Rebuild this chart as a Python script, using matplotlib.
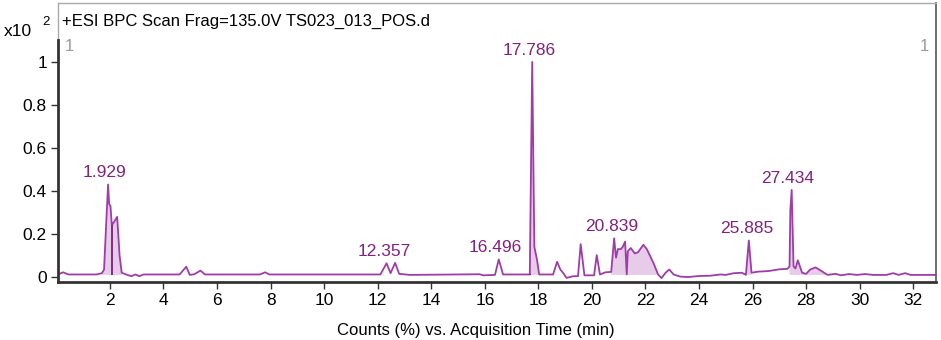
import numpy as np
import matplotlib
matplotlib.use("Agg")
import matplotlib.pyplot as plt

plt.rcParams['font.family'] = ['Liberation Sans', 'DejaVu Sans']

# acquisition time (min) and counts (x10^2)
times = [0.06, 0.25, 0.45, 1.0, 1.5, 1.70, 1.78, 1.86, 1.93, 1.97, 2.02, 2.07,
         2.12, 2.27, 2.36, 2.44, 2.6, 2.8, 2.95, 3.1, 3.25, 4.6, 4.85, 4.98,
         5.15, 5.38, 5.55, 7.6, 7.8, 7.95, 12.1, 12.33, 12.48, 12.65, 12.8,
         13.2, 15.8, 15.95, 16.38, 16.52, 16.68, 17.6, 17.68, 17.77, 17.85,
         17.95, 18.03, 18.55, 18.7, 18.82, 18.95, 19.05, 19.3, 19.48, 19.58,
         19.72, 20.08, 20.18, 20.3, 20.5, 20.72, 20.83, 20.9, 20.97, 21.08,
         21.15, 21.24, 21.3, 21.34, 21.45, 21.6, 21.72, 21.92, 22.05, 22.3,
         22.47, 22.6, 22.75, 22.89, 23.05, 23.3, 23.6, 24.0, 24.4, 24.8, 25.0,
         25.3, 25.6, 25.75, 25.86, 25.96, 26.2, 26.6, 27.0, 27.3, 27.38,
         27.41, 27.46, 27.53, 27.6, 27.69, 27.85, 28.0, 28.15, 28.35, 28.55,
         28.8, 29.1, 29.3, 29.6, 29.9, 30.2, 30.5, 31.0, 31.25, 31.45, 31.7,
         31.9, 32.85]
counts = [0.012, 0.022, 0.012, 0.012, 0.012, 0.018, 0.035, 0.25, 0.43, 0.34,
          0.33, 0.24, 0.25, 0.28, 0.1, 0.02, 0.012, 0.004, 0.012, 0.004, 0.012,
          0.012, 0.048, 0.01, 0.013, 0.03, 0.012, 0.012, 0.022, 0.012, 0.012,
          0.064, 0.018, 0.066, 0.015, 0.01, 0.013, 0.008, 0.01, 0.082, 0.012,
          0.012, 0.012, 1.0, 0.14, 0.08, 0.012, 0.012, 0.071, 0.035, 0.015,
          -0.004, 0.004, 0.004, 0.153, 0.008, 0.008, 0.102, 0.012, 0.022,
          0.024, 0.18, 0.09, 0.13, 0.13, 0.14, 0.165, 0.012, 0.12, 0.135,
          0.11, 0.115, 0.15, 0.13, 0.065, 0.012, -0.005, 0.02, 0.035, 0.012,
          0.002, 0.0, 0.005, 0.006, 0.012, 0.01, 0.018, 0.02, 0.01, 0.17,
          0.02, 0.025, 0.028, 0.036, 0.038, 0.05, 0.31, 0.405, 0.05, 0.04,
          0.078, 0.02, 0.015, 0.035, 0.045, 0.03, 0.01, 0.015, 0.008, 0.014,
          0.01, 0.014, 0.01, 0.01, 0.018, 0.01, 0.018, 0.01, 0.01]

# integrated peak windows (shaded)
peak_windows = [(1.70, 2.44), (17.68, 18.03), (20.72, 22.47), (25.75, 25.96),
                (27.38, 27.53), (27.6, 27.85), (28.0, 28.8)]
split_times = [2.07, 17.68]

peak_labels = ['1.929', '12.357', '16.496', '17.786', '20.839', '25.885', '27.434']
label_times = [1.93, 12.36, 16.50, 17.79, 20.84, 25.89, 27.43]
label_heights = [0.43, 0.066, 0.082, 1.0, 0.18, 0.17, 0.405]

line_c = '#a03ca8'
label_c = '#85207f'
fill_c = '#e6cce8'

t = np.array(times)
c = np.array(counts)

fig = plt.figure(figsize=(9.41, 3.40), dpi=100)
ax = fig.add_axes([58 / 941, 58 / 340, 878 / 941, 279 / 340])

mask = np.zeros(len(t), dtype=bool)
for a, b in peak_windows:
    mask |= (t >= a) & (t <= b)
ax.fill_between(t, c, 0.01, where=mask, color=fill_c, lw=0)
ax.plot(t, c, color=line_c, lw=1.3)
for s in split_times:
    ax.vlines(s, 0.01, np.interp(s, t, c), color='#7a1f7a', lw=1.3)

for lab, lt, lh in zip(peak_labels, label_times, label_heights):
    ax.text(lt - 0.12, lh + 0.02, lab, color=label_c, fontsize=12.5,
            ha='center', va='bottom')

ax.set_xlim(0.06, 32.85)
ax.set_ylim(-0.023, 1.274)
ax.set_xticks(np.arange(2, 33, 2))
ax.set_yticks([0, 0.2, 0.4, 0.6, 0.8, 1])
ax.set_yticklabels(['0', '0.2', '0.4', '0.6', '0.8', '1'])
ax.tick_params(labelsize=12.5, length=5, width=1, color='#333333', pad=3)

ax.spines['left'].set_linewidth(2)
ax.spines['left'].set_color('#333333')
ax.spines['left'].set_bounds(-0.023, 1.1)
ax.spines['bottom'].set_linewidth(2)
ax.spines['bottom'].set_color('#333333')
ax.spines['top'].set_color('#aaaaaa')
ax.spines['top'].set_linewidth(1)
ax.spines['right'].set_color('#555555')
ax.spines['right'].set_linewidth(1.2)
ax.plot([0, 0], [1.1, 1.274], transform=ax.get_yaxis_transform(),
        color='#aaaaaa', lw=1, clip_on=False)

ax.text(0.005, 0.96, '+ESI BPC Scan Frag=135.0V TS023_013_POS.d',
        transform=ax.transAxes, fontsize=12, va='top', ha='left')
ax.text(0.008, 0.845, '1', transform=ax.transAxes, color='#999999',
        fontsize=12, va='center', ha='left')
ax.text(0.992, 0.845, '1', transform=ax.transAxes, color='#999999',
        fontsize=12, va='center', ha='right')

fig.text(4 / 941, 1 - 31 / 340, 'x10', fontsize=12.5, va='center', ha='left')
fig.text(42 / 941, 1 - 22 / 340, '2', fontsize=9.5, va='center', ha='left')
fig.text(476 / 941, 1 - 330 / 340, 'Counts (%) vs. Acquisition Time (min)',
         fontsize=12, va='center', ha='center')

fig.savefig('out.png', dpi=100)
